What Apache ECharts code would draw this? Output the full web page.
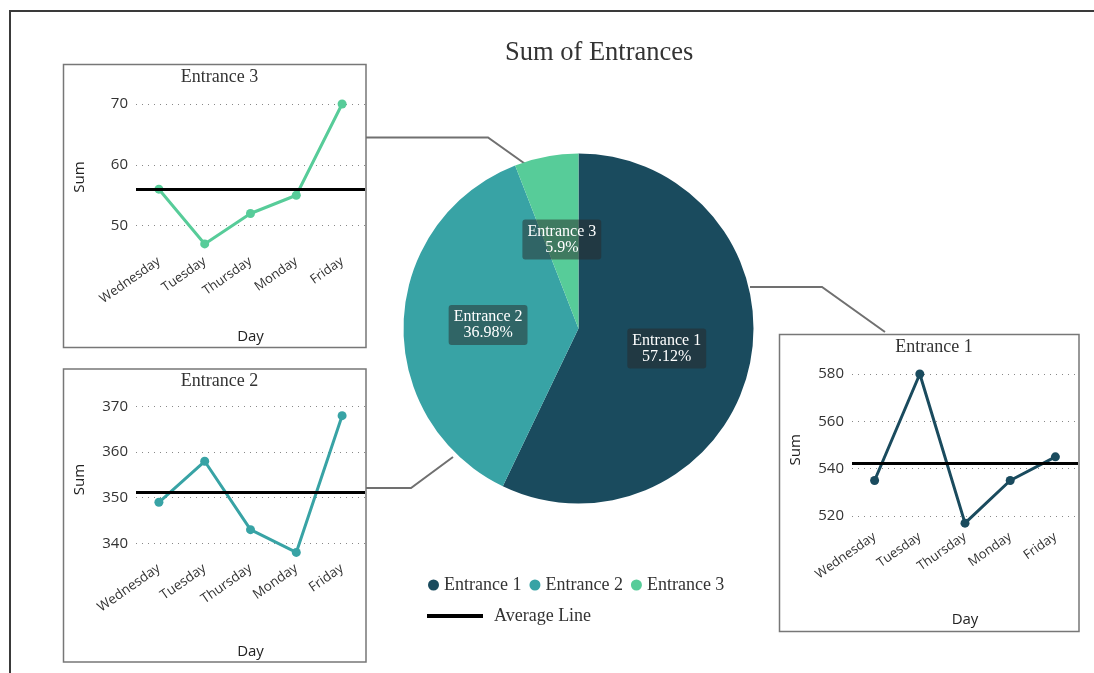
<!DOCTYPE html>
<html>
<head>
<meta charset="utf-8">
<title>Sum of Entrances</title>
<script src="https://cdn.jsdelivr.net/npm/echarts@6/dist/echarts.min.js"></script>
<style>
  html, body { margin: 0; padding: 0; background: #fff; }
  #chart { width: 1094px; height: 673px; }
</style>
</head>
<body>
<div id="chart"></div>
<script>
// 数据
const days = ["Wednesday", "Tuesday", "Thursday", "Monday", "Friday"];
const entrance1 = [535, 580, 517, 535, 545];
const entrance2 = [349, 358, 343, 338, 368];
const entrance3 = [56, 47, 52, 55, 70];
const entranceNames = ["Entrance 1", "Entrance 2", "Entrance 3"];
const colors = ["#1a4b5e", "#38a3a5", "#57cc99"];

const sum = (arr) => arr.reduce((a, b) => a + b, 0);
const pieData = [
  { name: entranceNames[0], value: sum(entrance1) },
  { name: entranceNames[1], value: sum(entrance2) },
  { name: entranceNames[2], value: sum(entrance3) },
];

const serif = "'Liberation Serif', 'DejaVu Serif', serif";
const sans = "'Open Sans', 'Noto Sans', sans-serif";

// 小图坐标轴
function xAxisFor(gridIndex, fontSize, nameGap) {
  return {
    type: "category",
    gridIndex,
    data: days,
    boundaryGap: true,
    axisLine: { show: false },
    axisTick: { show: false },
    axisLabel: { rotate: 35, fontSize, color: "#333", fontFamily: sans, margin: 10 },
    name: "Day",
    nameLocation: "middle",
    nameGap,
    nameTextStyle: { fontSize: 15, color: "#222", fontFamily: sans },
  };
}

function yAxisFor(gridIndex, min, max, step, hideMax) {
  return {
    type: "value",
    gridIndex,
    min,
    max,
    splitNumber: 3,
    axisLine: { show: false },
    axisTick: { show: false },
    axisLabel: {
      fontSize: 15,
      color: "#333",
      fontFamily: sans,
      margin: 8,
      formatter: (v) => (v % step === 0 ? String(v) : ""),
    },
    splitLine: {
      show: true,
      showMinLine: false,
      showMaxLine: !hideMax,
      lineStyle: { color: "#888", type: [1, 5], width: 1 },
    },
    name: "Sum",
    nameLocation: "middle",
    nameRotate: 90,
    nameGap: 49,
    nameTextStyle: { fontSize: 15, color: "#222", fontFamily: sans },
  };
}

function lineSeries(name, data, idx, color) {
  return {
    name,
    type: "line",
    xAxisIndex: idx,
    yAxisIndex: idx,
    data,
    symbol: "circle",
    symbolSize: 9,
    showAllSymbol: true,
    lineStyle: { width: 3, color },
    itemStyle: { color },
    emphasis: { disabled: true },
    markLine: {
      silent: true,
      symbol: "none",
      label: { show: false },
      lineStyle: { color: "#000", width: 3, type: "solid" },
      data: [{ type: "average" }],
    },
  };
}

const chart = echarts.init(document.getElementById("chart"));

const option = {
  backgroundColor: "#fff",
  animation: false,
  title: [
    { text: "Sum of Entrances", left: 500, top: 35,
      textStyle: { fontFamily: serif, fontSize: 26.5, fontWeight: "normal", color: "#333" } },
    { text: "Entrance 3", left: 214.5, top: 63, textAlign: "center",
      textStyle: { fontFamily: serif, fontSize: 18, fontWeight: "normal", color: "#333" } },
    { text: "Entrance 2", left: 214.5, top: 367, textAlign: "center",
      textStyle: { fontFamily: serif, fontSize: 18, fontWeight: "normal", color: "#333" } },
    { text: "Entrance 1", left: 929, top: 333, textAlign: "center",
      textStyle: { fontFamily: serif, fontSize: 18, fontWeight: "normal", color: "#333" } },
  ],
  legend: [
    {
      data: entranceNames,
      left: 423,
      top: 571,
      icon: "circle",
      itemWidth: 11,
      itemHeight: 11,
      itemGap: 8,
      selectedMode: false,
      textStyle: { fontFamily: serif, fontSize: 18, color: "#333" },
    },
    {
      data: ["Average Line"],
      left: 422,
      top: 602,
      icon: "rect",
      itemWidth: 56,
      itemHeight: 4,
      selectedMode: false,
      textStyle: { fontFamily: serif, fontSize: 18, color: "#333", padding: [0, 0, 0, 6] },
    },
  ],
  grid: [
    { left: 136, top: 104, width: 229, height: 146 },   // Entrance 3
    { left: 136, top: 402, width: 229, height: 155 },   // Entrance 2
    { left: 852, top: 374, width: 226, height: 151.5 }, // Entrance 1
  ],
  xAxis: [xAxisFor(0, 13, 79), xAxisFor(1, 13.5, 87), xAxisFor(2, 13, 87)],
  yAxis: [
    yAxisFor(0, 46, 70, 10, false),
    yAxisFor(1, 337, 371, 10, true),
    yAxisFor(2, 516, 580, 20, false),
  ],
  series: [
    {
      name: "Sum of Entrances",
      type: "pie",
      center: [578.5, 328.5],
      radius: 175,
      startAngle: 90,
      clockwise: true,
      data: pieData,
      color: colors,
      emphasis: { disabled: true },
      labelLine: { show: false },
      label: {
        show: true,
        position: "inside",
        formatter: "{b}\n{d}%",
        color: "#fff",
        fontFamily: serif,
        fontSize: 16,
        lineHeight: 16,
        backgroundColor: "rgba(40,40,40,0.5)",
        borderRadius: 3,
        padding: [4, 5],
      },
    },
    lineSeries("Entrance 3 by day", entrance3, 0, colors[2]),
    lineSeries("Entrance 2 by day", entrance2, 1, colors[1]),
    lineSeries("Entrance 1 by day", entrance1, 2, colors[0]),
    {
      name: "Average Line",
      type: "line",
      xAxisIndex: 0,
      yAxisIndex: 0,
      data: [],
      itemStyle: { color: "#000" },
      lineStyle: { color: "#000", width: 3 },
    },
  ],
  graphic: [
    // 页面边框
    { type: "polyline", silent: true,
      shape: { points: [[10, 673], [10, 11], [1094, 11]] },
      style: { stroke: "#3a3a3a", lineWidth: 2, fill: null } },
    // 小图边框
    { type: "rect", silent: true, shape: { x: 63.5, y: 64.5, width: 302.5, height: 283 },
      style: { stroke: "#777", lineWidth: 1.5, fill: null } },
    { type: "rect", silent: true, shape: { x: 63.5, y: 369, width: 302.5, height: 293 },
      style: { stroke: "#777", lineWidth: 1.5, fill: null } },
    { type: "rect", silent: true, shape: { x: 779.5, y: 334.5, width: 299.5, height: 297 },
      style: { stroke: "#777", lineWidth: 1.5, fill: null } },
    // 连接线
    { type: "polyline", silent: true,
      shape: { points: [[366, 137.5], [488, 137.5], [526, 164.5]] },
      style: { stroke: "#707070", lineWidth: 2, fill: null } },
    { type: "polyline", silent: true,
      shape: { points: [[366, 488], [411, 488], [453, 457]] },
      style: { stroke: "#707070", lineWidth: 2, fill: null } },
    { type: "polyline", silent: true,
      shape: { points: [[750, 287], [822, 287], [885, 332]] },
      style: { stroke: "#707070", lineWidth: 2, fill: null } },
  ],
};

chart.setOption(option);
window.addEventListener("resize", () => chart.resize());
</script>
</body>
</html>
